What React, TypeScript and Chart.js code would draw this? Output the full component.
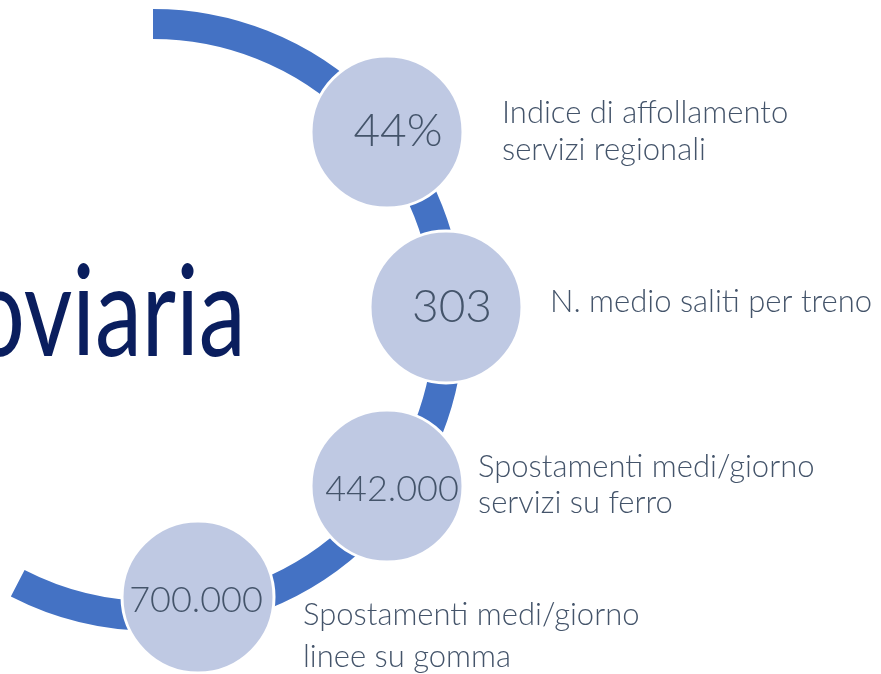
import React, { useEffect, useRef } from "react";
import { Chart, registerables } from "chart.js";

Chart.register(...registerables);

// Values shown in the circles
const metricValues = ["44%", "303", "442.000", "700.000"];
// Descriptions next to each circle
const metricLabels = [
  ["Indice di affollamento", "servizi regionali"],
  ["N. medio saliti per treno"],
  ["Spostamenti medi/giorno", "servizi su ferro"],
  ["Spostamenti medi/giorno", "linee su gomma"],
];
// Circle centres in the layout's coordinate space
const bubbleX = [387, 446, 387, 198];
const bubbleY = [132, 307, 486, 597];
const bubbleR = [76, 76, 76, 76];
// Title text (partly cut off at the left)
const titleHead = "Ferro";
const titleTail = "viaria";

const W = 881;
const H = 674;

export default function App() {
  const ref = useRef<HTMLCanvasElement | null>(null);

  useEffect(() => {
    if (!ref.current) return;
    const arcPlugin = {
      id: "arcPlugin",
      beforeDatasetsDraw(chart: any) {
        const { ctx, scales } = chart;
        const xs = scales.x, ys = scales.y;
        const cx = xs.getPixelForValue(153);
        const cy = ys.getPixelForValue(320);
        const r = Math.abs(xs.getPixelForValue(153 + 296) - cx);
        ctx.save();
        // title: "viaria" spans 25..247, the head is cut off by the left edge
        ctx.fillStyle = "#0A1E5E";
        ctx.font = "400 126px Lato";
        ctx.textAlign = "left";
        ctx.textBaseline = "alphabetic";
        const tailW = ctx.measureText(titleTail).width;
        const headW = ctx.measureText(titleHead).width;
        const x0 = xs.getPixelForValue(25);
        const x1 = xs.getPixelForValue(247);
        const s = (x1 - x0) / tailW;
        ctx.save();
        ctx.translate(x0 - headW * s, ys.getPixelForValue(356));
        ctx.scale(s, 1);
        ctx.fillText(titleHead + titleTail, 0, 0);
        ctx.restore();
        // arc
        ctx.beginPath();
        ctx.strokeStyle = "#4472C4";
        ctx.lineWidth = 30;
        ctx.lineCap = "butt";
        ctx.arc(cx, cy, r, -Math.PI / 2, (117.2 * Math.PI) / 180, false);
        ctx.stroke();
        ctx.restore();
      },
    };
    const textPlugin = {
      id: "textPlugin",
      afterDatasetsDraw(chart: any) {
        const { ctx, scales } = chart;
        const xs = scales.x, ys = scales.y;
        ctx.save();
        ctx.fillStyle = "#44546A";
        ctx.textBaseline = "middle";
        const numPos = [
          [398, 131, 46],
          [452, 307, 46],
          [392, 489, 36],
          [196, 600, 36],
        ];
        metricValues.forEach((v, i) => {
          ctx.font = `300 ${numPos[i][2]}px Lato`;
          ctx.textAlign = "center";
          ctx.fillText(v, xs.getPixelForValue(numPos[i][0]), ys.getPixelForValue(numPos[i][1]));
        });
        const labPos = [
          [502, 113, 37],
          [550, 302, 37],
          [478, 467, 36],
          [303, 615, 42],
        ];
        ctx.font = "300 31px Lato";
        ctx.textAlign = "left";
        metricLabels.forEach((lines, i) => {
          lines.forEach((t, j) => {
            ctx.fillText(
              t,
              xs.getPixelForValue(labPos[i][0]),
              ys.getPixelForValue(labPos[i][1] + j * labPos[i][2])
            );
          });
        });
        ctx.restore();
      },
    };

    const chart = new Chart(ref.current, {
      type: "bubble",
      data: {
        datasets: [
          {
            data: bubbleX.map((x, i) => ({ x, y: bubbleY[i], r: bubbleR[i] })),
            backgroundColor: "#BFC9E3",
            borderColor: "#FFFFFF",
            borderWidth: 3,
            hoverRadius: 0,
            clip: false,
          },
        ],
      },
      options: {
        responsive: false,
        animation: false,
        layout: { padding: 0, autoPadding: false },
        plugins: { legend: { display: false }, tooltip: { enabled: false } },
        events: [],
        scales: {
          x: { type: "linear", min: 0, max: W, display: false },
          y: { type: "linear", min: 0, max: H, reverse: true, display: false },
        },
      },
      plugins: [arcPlugin, textPlugin],
    });
    return () => chart.destroy();
  }, []);

  return (
    <div style={{ position: "fixed", left: 0, top: 0, width: W, height: H, background: "#fff" }}>
      <canvas ref={ref} width={W} height={H} style={{ display: "block" }} />
    </div>
  );
}
